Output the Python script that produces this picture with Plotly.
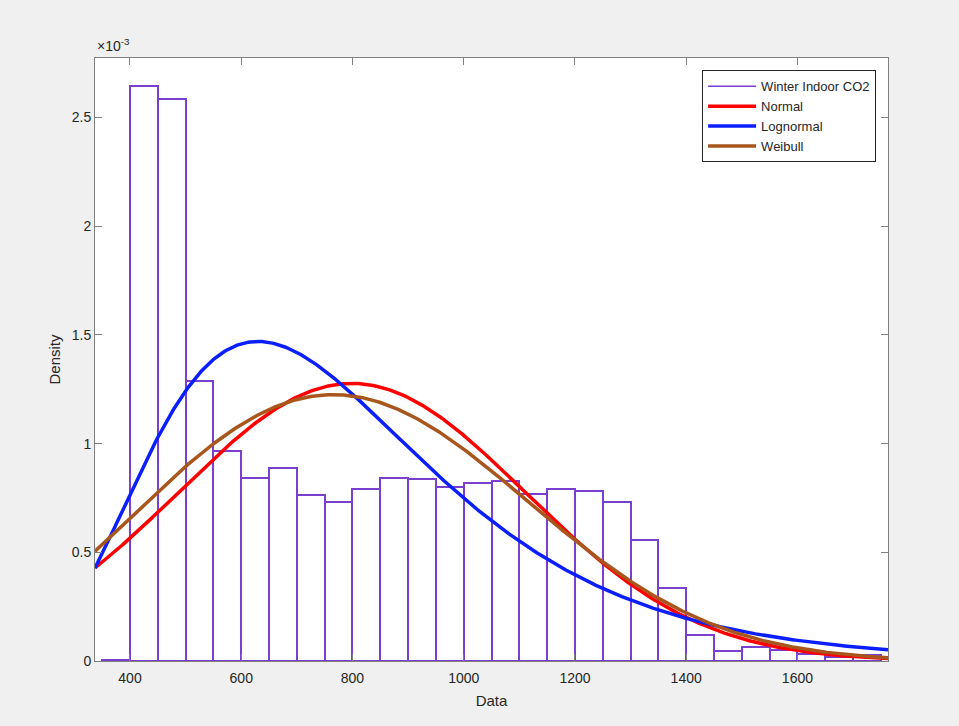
import numpy as np
import plotly.graph_objects as go

# Histogram of winter indoor CO2 (ppm), normalised to a probability density
bin_edges = [350, 400, 450, 500, 550, 600, 650, 700, 750, 800, 850, 900, 950,
             1000, 1050, 1100, 1150, 1200, 1250, 1300, 1350, 1400, 1450, 1500,
             1550, 1600, 1650, 1700, 1750]
density = [0.006e-3, 2.644e-3, 2.584e-3, 1.290e-3, 0.966e-3, 0.842e-3, 0.888e-3,
           0.763e-3, 0.732e-3, 0.793e-3, 0.842e-3, 0.839e-3, 0.800e-3, 0.821e-3,
           0.829e-3, 0.769e-3, 0.793e-3, 0.781e-3, 0.732e-3, 0.558e-3, 0.335e-3,
           0.119e-3, 0.046e-3, 0.063e-3, 0.052e-3, 0.030e-3, 0.020e-3, 0.028e-3]

# Fitted distribution parameters
normal_mu, normal_sigma = 799.0, 312.4
lognormal_mu, lognormal_sigma = 6.604, 0.398
weibull_scale, weibull_shape = 899.0, 2.78

# Axis settings
x_range = [337.1, 1762.8]
y_range = [0, 2.774e-3]
x_ticks = [400, 600, 800, 1000, 1200, 1400, 1600]
y_ticks = [0, 0.5e-3, 1.0e-3, 1.5e-3, 2.0e-3, 2.5e-3]
y_tick_text = ["0", "0.5", "1", "1.5", "2", "2.5"]

PURPLE = "#7B3FCF"
RED = "#FF0000"
BLUE = "#0A1EFF"
BROWN = "#A8561C"
TEXT = "#262626"
AXIS = "#7F7F7F"

edges = np.array(bin_edges, dtype=float)
centers = (edges[:-1] + edges[1:]) / 2
widths = np.diff(edges)

# Evaluate the fitted PDFs across the visible x range
xs = np.linspace(x_range[0], x_range[1], 600)
pdf_normal = np.exp(-0.5 * ((xs - normal_mu) / normal_sigma) ** 2) / (normal_sigma * np.sqrt(2 * np.pi))
pdf_lognormal = np.exp(-0.5 * ((np.log(xs) - lognormal_mu) / lognormal_sigma) ** 2) / (
    xs * lognormal_sigma * np.sqrt(2 * np.pi))
r = xs / weibull_scale
pdf_weibull = (weibull_shape / weibull_scale) * r ** (weibull_shape - 1) * np.exp(-r ** weibull_shape)

fig = go.Figure()

# Legend entry for the histogram (drawn as a line sample)
fig.add_trace(go.Scatter(x=[None], y=[None], mode="lines", name="Winter Indoor CO2",
                         line=dict(color=PURPLE, width=1.5)))

fig.add_trace(go.Bar(x=centers, y=density, width=widths, showlegend=False,
                     marker=dict(color="white", line=dict(color=PURPLE, width=2)),
                     hoverinfo="x+y"))

fig.add_trace(go.Scatter(x=xs, y=pdf_normal, mode="lines", name="Normal",
                         line=dict(color=RED, width=3.5)))
fig.add_trace(go.Scatter(x=xs, y=pdf_lognormal, mode="lines", name="Lognormal",
                         line=dict(color=BLUE, width=3.5)))
fig.add_trace(go.Scatter(x=xs, y=pdf_weibull, mode="lines", name="Weibull",
                         line=dict(color=BROWN, width=3.5)))

font_family = "Liberation Sans, Arial, Helvetica, sans-serif"

fig.update_layout(
    width=959, height=726,
    margin=dict(l=95, r=71, t=58, b=65),
    paper_bgcolor="#F0F0F0",
    plot_bgcolor="white",
    font=dict(family=font_family, color=TEXT, size=14),
    bargap=0,
    showlegend=True,
    legend=dict(x=0.985, y=0.9796, xanchor="right", yanchor="top",
                bgcolor="white", bordercolor=TEXT, borderwidth=1,
                itemwidth=48,
                font=dict(size=13, color=TEXT), traceorder="normal"),
    xaxis=dict(range=x_range, tickvals=x_ticks, ticks="inside", ticklen=7,
               tickcolor=AXIS, showline=True, linecolor=AXIS, linewidth=1,
               mirror="ticks", showgrid=False, zeroline=False,
               ticklabelstandoff=4,
               tickfont=dict(size=14, color=TEXT),
               title=dict(text="Data", font=dict(size=15, color=TEXT), standoff=10)),
    yaxis=dict(range=y_range, tickvals=y_ticks, ticktext=y_tick_text, ticks="inside",
               ticklen=7, tickcolor=AXIS, showline=True, linecolor=AXIS, linewidth=1,
               mirror="ticks", showgrid=False, zeroline=False,
               tickfont=dict(size=14, color=TEXT),
               title=dict(text="Density", font=dict(size=15, color=TEXT), standoff=7)),
    annotations=[dict(text="×10<sup>-3</sup>", xref="paper", yref="paper", x=0, y=1,
                      xanchor="left", yanchor="bottom", showarrow=False, yshift=2,
                      font=dict(size=14, color=TEXT))],
)

fig.write_html("out.html")
